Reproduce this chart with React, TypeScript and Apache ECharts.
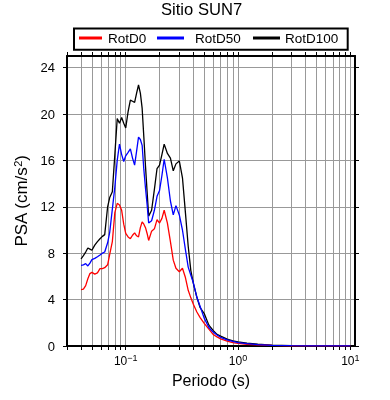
import React, { useEffect, useRef } from "react";
import * as echarts from "echarts";

const periods = [
  0.04, 0.042, 0.044, 0.046, 0.048, 0.05, 0.053, 0.056, 0.059, 0.062, 0.065,
  0.069, 0.072, 0.076, 0.08, 0.084, 0.088, 0.092, 0.096, 0.1,
  0.105, 0.11, 0.115, 0.12, 0.125, 0.13, 0.135, 0.14, 0.145, 0.15, 0.155, 0.16,
  0.17, 0.18, 0.19, 0.2, 0.21, 0.22, 0.235, 0.25, 0.265, 0.28, 0.3,
  0.32, 0.34, 0.36, 0.38, 0.4, 0.43, 0.46, 0.5,
  0.55, 0.6, 0.65, 0.7, 0.8, 0.9, 1.0,
  1.2, 1.5, 2.0, 3.0, 4.0, 5.0, 7.0, 10.0,
];

const rotD0 = [
  4.86, 4.9, 5.2, 5.8, 6.24, 6.35, 6.2, 6.3, 6.67, 6.67, 6.75,
  7.0, 7.9, 9.0, 11.5, 12.3, 12.15, 11.7, 10.5, 9.7,
  9.4, 9.25, 9.55, 9.75, 9.5, 9.4, 10.2, 10.7, 10.5, 10.2, 9.7, 9.1,
  9.9, 10.1, 10.9, 10.6, 11.0, 11.7, 10.6, 9.0, 7.4, 6.7, 6.4,
  6.7, 5.9, 4.8, 4.15, 3.6, 2.93, 2.45, 1.95,
  1.45, 1.0, 0.78, 0.62, 0.43, 0.3, 0.22,
  0.14, 0.09, 0.05, 0.02, 0.012, 0.008, 0.005, 0.003,
];

const rotD50 = [
  6.96, 7.0, 7.1, 6.9, 7.15, 7.45, 7.55, 7.7, 7.85, 8.0, 8.1,
  8.9, 9.8, 11.8, 13.7, 16.0, 17.4, 16.5, 15.9, 16.4,
  16.7, 17.0, 16.2, 15.6, 16.8, 18.0, 17.8, 17.3, 15.2, 13.6, 12.2, 10.6,
  10.8, 11.7, 12.9, 13.4, 14.7, 16.1, 14.5, 12.5, 11.3, 12.1, 11.3,
  10.0, 8.3, 6.8, 6.1, 5.45, 4.2, 3.4, 2.4,
  1.6, 1.2, 0.95, 0.75, 0.52, 0.4, 0.3,
  0.2, 0.12, 0.06, 0.025, 0.016, 0.012, 0.008, 0.005,
];

const rotD100 = [
  7.5, 7.8, 8.1, 8.45, 8.35, 8.25, 8.7, 9.0, 9.25, 9.45, 9.6,
  12.0, 12.8, 13.3, 16.5, 19.6, 19.2, 19.7, 19.2, 18.8,
  20.2, 21.2, 21.1, 21.0, 21.8, 22.5, 21.8, 20.5, 18.0, 15.5, 13.3, 11.2,
  11.7, 13.5, 15.3, 15.6, 16.5, 17.4, 16.6, 16.2, 15.1, 15.7, 15.95,
  14.5, 11.5, 8.6, 6.5, 5.4, 4.2, 3.3, 2.8,
  1.8, 1.35, 1.0, 0.85, 0.6, 0.45, 0.35,
  0.25, 0.15, 0.07, 0.03, 0.02, 0.015, 0.01, 0.006,
];

const seriesNames = ["RotD0", "RotD50", "RotD100"];
const seriesColors = ["#ff0000", "#0000ff", "#000000"];

const xMinPeriod = 0.03;
const xMaxPeriod = 11;
const xGridPeriods = [
  0.03, 0.04, 0.05, 0.06, 0.07, 0.08, 0.09,
  0.1, 0.2, 0.3, 0.4, 0.5, 0.6, 0.7, 0.8, 0.9,
  1, 2, 3, 4, 5, 6, 7, 8, 9, 10,
];
const xLabelPeriods = [0.1, 1, 10];
const yTicks = [0, 4, 8, 12, 16, 20, 24];
const yMax = 25;

const FONT = "Liberation Sans";

export default function App() {
  const ref = useRef<HTMLDivElement>(null);

  useEffect(() => {
    document.body.style.margin = "0";
    if (!ref.current) return;
    const chart = echarts.init(ref.current, null, { renderer: "svg" });
    const lg = (v: number) => Math.log10(v);
    const xGrid = xGridPeriods.map(lg);
    const xLabels = xLabelPeriods.map(lg);
    const seriesData = [rotD0, rotD50, rotD100];
    const zOrder = [3, 4, 2];

    const baseX = {
      type: "value",
      min: lg(xMinPeriod),
      max: lg(xMaxPeriod),
      axisLine: { onZero: false, lineStyle: { color: "#000", width: 2 } },
      axisTick: {
        show: true,
        inside: false,
        length: 4,
        customValues: xGrid,
        lineStyle: { color: "#000", width: 1 },
      },
    };
    const baseY = {
      type: "value",
      min: 0,
      max: yMax,
      axisLine: { onZero: false, lineStyle: { color: "#000", width: 2 } },
      axisTick: {
        show: true,
        inside: false,
        length: 4,
        customValues: yTicks,
        lineStyle: { color: "#000", width: 1 },
      },
    };

    const legendLefts = [79, 157, 253];
    const legendWidths = [23, 27, 27];
    const legendTextPad = [1, 6, 0];

    chart.setOption({
      animation: false,
      textStyle: { fontFamily: FONT },
      title: {
        text: "Sitio SUN7",
        left: 161,
        top: 1,
        padding: 0,
        textStyle: { fontSize: 16.6, fontWeight: "normal", color: "#000", fontFamily: FONT },
      },
      graphic: [
        {
          type: "rect",
          shape: { x: 74, y: 28.5, width: 273.7, height: 21.2 },
          style: { fill: "#fff", stroke: "#000", lineWidth: 2 },
          z: 0,
        },
      ],
      legend: seriesNames.map((n, i) => ({
        data: [n],
        left: legendLefts[i],
        top: 31,
        padding: 0,
        icon: "rect",
        itemWidth: legendWidths[i],
        itemHeight: 3,
        z: 5,
        textStyle: {
          fontSize: 13.5,
          color: "#000",
          fontFamily: FONT,
          padding: [0, 0, 0, legendTextPad[i]],
        },
      })),
      grid: { left: 67, right: 35, top: 56, bottom: 54, outerBoundsMode: "none" },
      xAxis: [
        {
          ...baseX,
          position: "bottom",
          name: "Periodo (s)",
          nameLocation: "middle",
          nameGap: 26,
          nameTextStyle: { fontSize: 16, color: "#000", fontFamily: FONT },
          axisLabel: {
            customValues: xLabels,
            margin: 7,
            color: "#000",
            formatter: (v: number) => {
              const e = Math.round(v);
              const s = e < 0 ? "\u2212" + -e : String(e);
              return "{b|10}{s|" + s + "}";
            },
            rich: {
              b: { fontSize: 12, lineHeight: 16, color: "#000", fontFamily: FONT },
              s: { fontSize: 9, verticalAlign: "top", color: "#000", fontFamily: FONT },
            },
          },
          splitLine: { show: true, lineStyle: { color: "#999", width: 1 } },
        },
        {
          ...baseX,
          position: "top",
          axisLabel: { show: false },
          splitLine: { show: false },
        },
      ],
      yAxis: [
        {
          ...baseY,
          position: "left",
          name: "PSA (cm/s{s|2})",
          nameLocation: "middle",
          nameGap: 28,
          nameTextStyle: {
            fontSize: 17,
            color: "#000",
            fontFamily: FONT,
            rich: {
              s: { fontSize: 11, verticalAlign: "top", color: "#000", fontFamily: FONT },
            },
          },
          axisLabel: {
            customValues: yTicks,
            margin: 12,
            fontSize: 13,
            color: "#000",
            fontFamily: FONT,
          },
          splitLine: { show: true, lineStyle: { color: "#999", width: 1 } },
        },
        {
          ...baseY,
          position: "right",
          axisLabel: { show: false },
          splitLine: { show: false },
        },
      ],
      series: seriesNames.map((n, i) => ({
        name: n,
        type: "line",
        xAxisIndex: 0,
        yAxisIndex: 0,
        color: seriesColors[i],
        symbol: "none",
        showSymbol: false,
        z: zOrder[i],
        lineStyle: { color: seriesColors[i], width: 1.3 },
        data: periods.map((p, k) => [lg(p), seriesData[i][k]]),
      })),
    });
    return () => chart.dispose();
  }, []);

  return (
    <div
      ref={ref}
      style={{ position: "fixed", left: 0, top: 0, width: 390, height: 400 }}
    />
  );
}
